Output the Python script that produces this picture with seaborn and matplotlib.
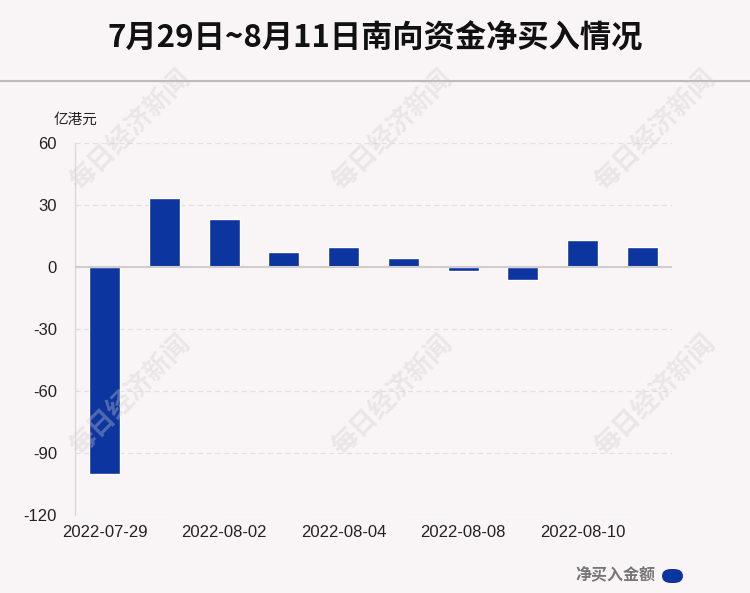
import pandas as pd
import numpy as np
import seaborn as sns
import matplotlib.pyplot as plt
from matplotlib.patches import FancyBboxPatch
from matplotlib.lines import Line2D

# data
dates = ['2022-07-29', '2022-08-01', '2022-08-02', '2022-08-03', '2022-08-04',
         '2022-08-05', '2022-08-08', '2022-08-09', '2022-08-10', '2022-08-11']
net_buy = [-100.0, 33.2, 23.0, 7.0, 9.6, 4.2, -1.9, -6.1, 12.8, 9.6]
shown_labels = ['2022-07-29', '2022-08-02', '2022-08-04', '2022-08-08', '2022-08-10']
yticks = [60, 30, 0, -30, -60, -90, -120]

title = '7月29日~8月11日南向资金净买入情况'
unit = '亿港元'
legend_label = '净买入金额'
watermark = '每日经济新闻'

bg = '#f9f5f7'
bar_color = '#0d35a0'

sns.set_theme(style='white')
plt.rcParams['font.family'] = ['Liberation Sans', 'Noto Sans CJK SC', 'DejaVu Sans']

df = pd.DataFrame({'date': dates, 'value': net_buy})

fig = plt.figure(figsize=(7.5, 5.93), dpi=100, facecolor=bg)
ax = fig.add_axes([0.1, 0.1315, 0.796, 0.6275])
ax.set_facecolor(bg)

sns.barplot(data=df, x='date', y='value', color=bar_color, width=0.52,
            saturation=1, ax=ax, zorder=3)

ax.set_ylim(-120, 60)
ax.set_xlim(-0.5, len(dates) - 0.5)
ax.set_yticks(yticks)
ax.set_yticklabels([str(v) for v in yticks], fontsize=12, color='#222222')
ax.set_xticks([dates.index(d) for d in shown_labels])
ax.set_xticklabels(shown_labels, fontsize=12, color='#222222')
ax.tick_params(axis='x', length=0, pad=7)
ax.tick_params(axis='y', length=0, pad=13)
ax.set_xlabel('')
ax.set_ylabel('')

for v in yticks:
    if v != 0:
        ax.axhline(v, color='#e2dfe1', lw=0.9, ls=(0, (4, 3)), zorder=1)
ax.axhline(0, color='#d0cdcf', lw=1.5, zorder=4)

for s in ['top', 'right', 'bottom']:
    ax.spines[s].set_visible(False)
ax.spines['left'].set_color('#dcd9db')
ax.spines['left'].set_linewidth(1)

# title and separator
fig.text(0.5, 0.935, title, ha='center', va='center', fontsize=22.5,
         fontweight='bold', family=['Noto Sans CJK SC', 'DejaVu Sans'], color='#111111')
fig.add_artist(Line2D([0, 1], [1 - 81 / 593, 1 - 81 / 593], color='#bdbbbc', lw=1.5))

# unit label
fig.text(54 / 750, 1 - 120 / 593, unit, ha='left', va='center', fontsize=10.5,
         family=['Noto Sans CJK SC'], color='#222222')

# legend
fig.text(655 / 750, 1 - 574 / 593, legend_label, ha='right', va='center', fontsize=11.5,
         fontweight='bold', family=['Noto Sans CJK SC'], color='#777777')
fig.add_artist(FancyBboxPatch((662 / 750, 1 - 583 / 593), 21 / 750, 14 / 593,
                              boxstyle='round,pad=0,rounding_size=0.012',
                              transform=fig.transFigure, color=bar_color, lw=0))

# watermarks
for cx in [130, 392, 655]:
    for cy in [130, 395]:
        fig.text(cx / 750, 1 - cy / 593, watermark, ha='center', va='center',
                 rotation=45, fontsize=19, fontweight='bold',
                 family=['Noto Sans CJK SC'], color='#cfcccd', alpha=0.35, zorder=0)

fig.savefig('out.png', dpi=100, facecolor=bg)
